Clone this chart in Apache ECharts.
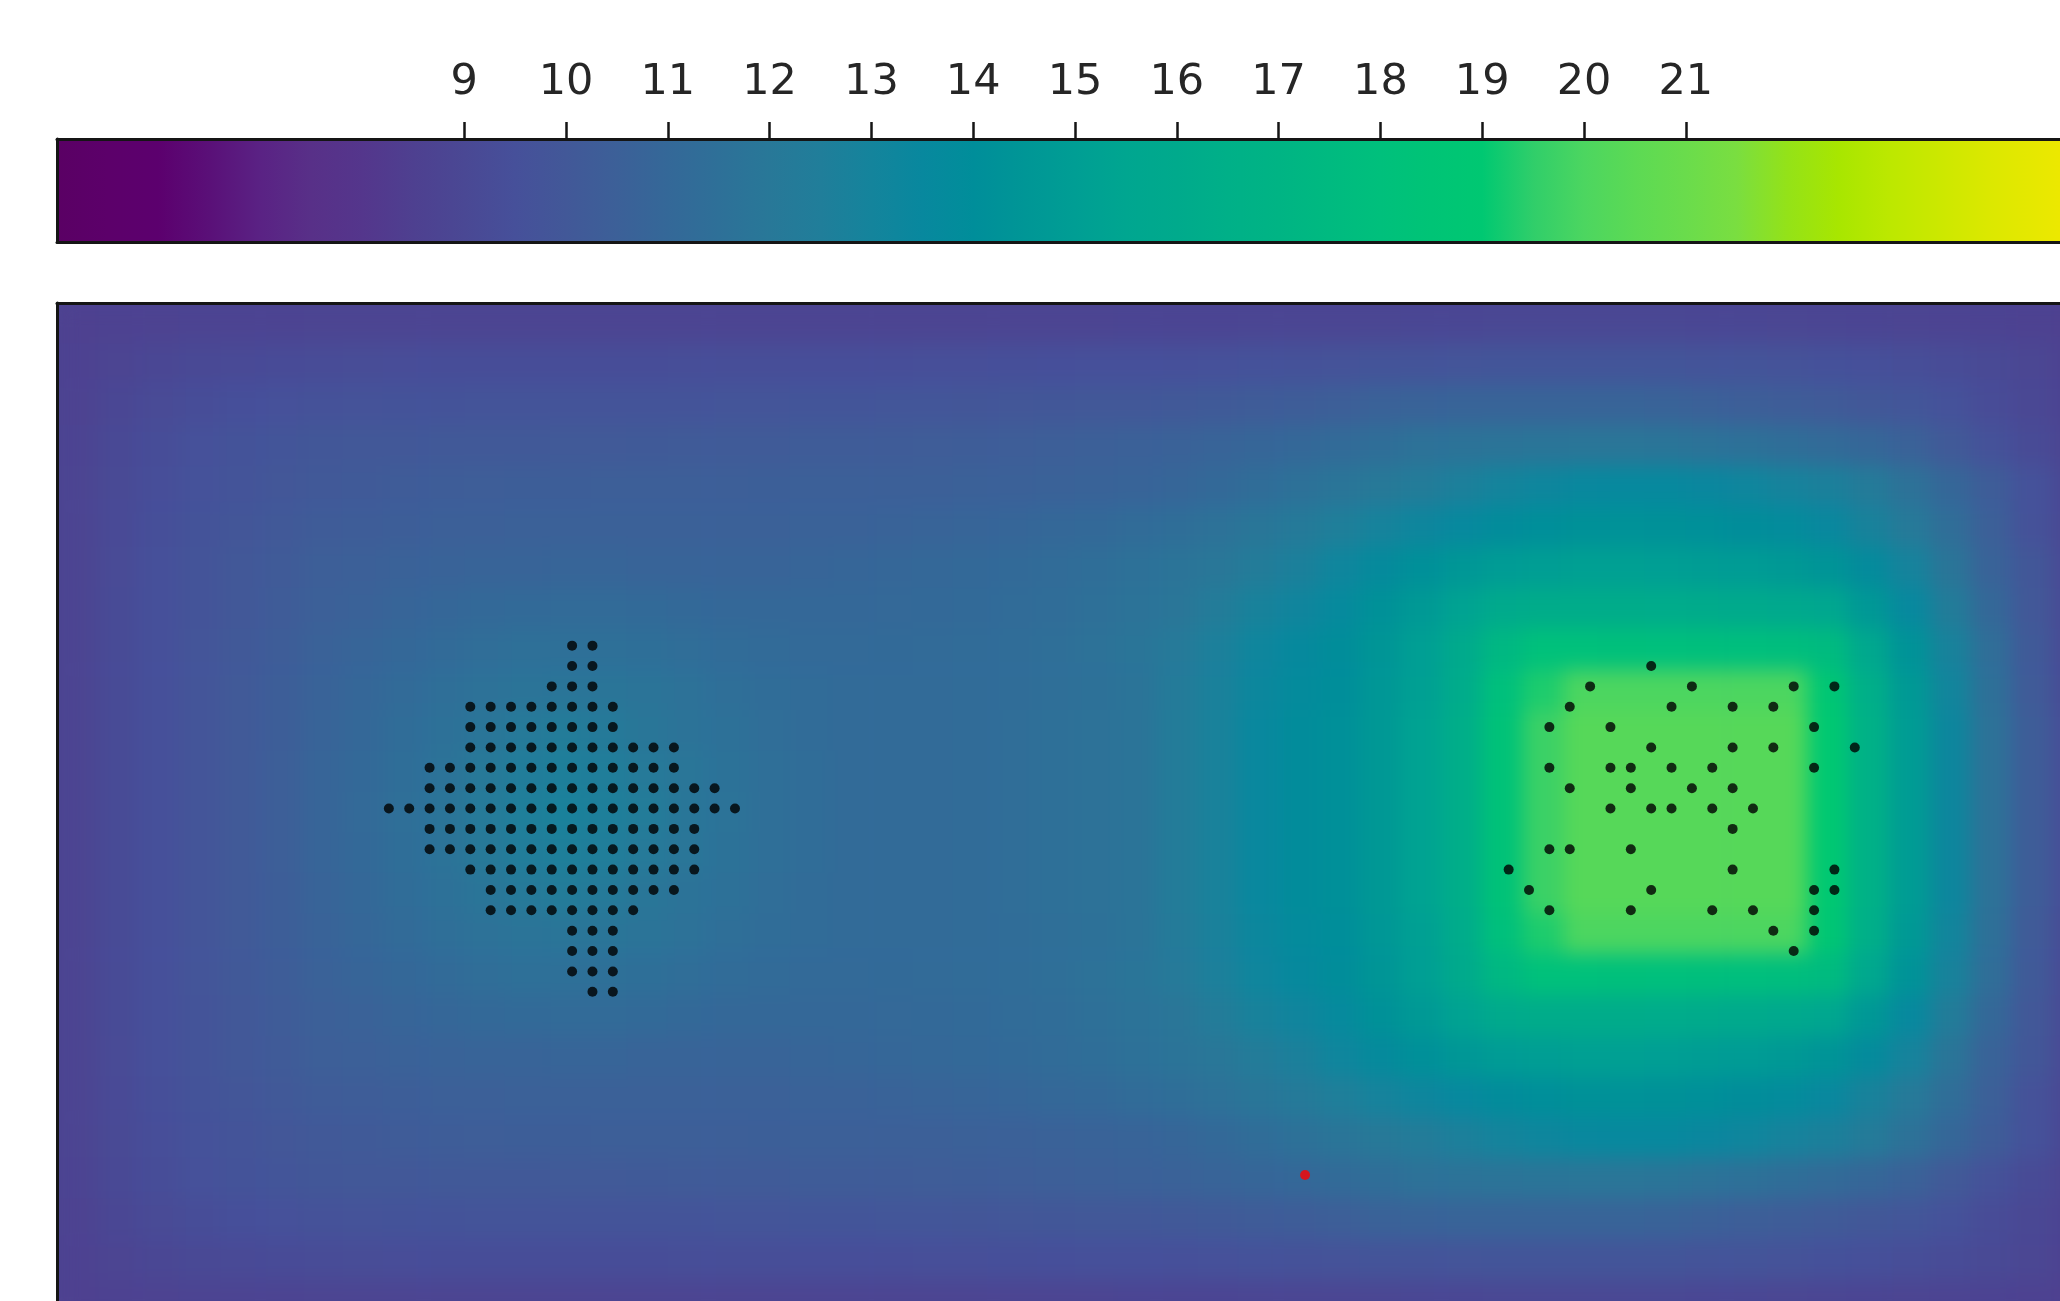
<!DOCTYPE html>
<html>
<head>
<meta charset="utf-8">
<title>field</title>
<script src="https://cdn.jsdelivr.net/npm/echarts@6/dist/echarts.min.js"></script>
<style>
  html, body { margin: 0; padding: 0; background: #fff; }
  #page { position: relative; width: 2060px; height: 1301px; overflow: hidden; }
  /* the field sits under the plot frame; blur smooths the cell steps like an interpolated image */
  #fieldWrap { position: absolute; left: 57px; top: 303px; width: 2003px; height: 998px;
    overflow: hidden; background: #4c4492; }
  #field { width: 2036px; height: 1018px; filter: blur(10px); }
  #chart { position: absolute; left: 0; top: 0; width: 2060px; height: 1301px; }
</style>
</head>
<body>
<div id="page">
  <div id="fieldWrap"><div id="field"></div></div>
  <div id="chart"></div>
</div>
<script>
// colour scale, one stop every 0.5 from 5 to 25
const cmap = ['#5a0064', '#5c006a', '#5c006e', '#5a1078', '#5a2284', '#583088', '#54368c', '#4e4090',
  '#4a4894', '#46509a', '#425898', '#3c6098', '#346898', '#2e7098', '#287898', '#207e9a', '#14849c',
  '#08889e', '#008e9a', '#009696', '#009e94', '#00a690', '#00aa8c', '#00b088', '#00b484', '#00ba80',
  '#00c07c', '#00c476', '#00c872', '#30ce6a', '#4cd660', '#5cda54', '#6adc4c', '#7ade40', '#94e218',
  '#a8e600', '#bce800', '#cce800', '#dce800', '#e8e800', '#f4e800'];
const cbarMin = 5;
const cbarMax = 25;
const cbarTicks = [9, 10, 11, 12, 13, 14, 15, 16, 17, 18, 19, 20, 21];

// field values, 2x2 unit cells, rows from top to bottom
const field = [
  [8.55,8.63,8.68,8.72,8.75,8.77,8.79,8.8,8.8,8.8,8.8,8.8,8.8,8.8,8.8,8.8,8.8,8.8,8.8,8.8,8.8,8.8,8.8,8.8,8.8,8.81,8.82,8.83,8.84,8.86,8.88,8.9,8.92,8.94,8.96,8.97,8.98,8.99,8.99,8.98,8.96,8.94,8.91,8.88,8.84,8.8,8.75,8.7,8.64,8.56],
  [8.62,8.81,8.95,9.07,9.15,9.21,9.27,9.29,9.31,9.32,9.32,9.33,9.33,9.34,9.34,9.35,9.36,9.37,9.38,9.39,9.4,9.41,9.43,9.44,9.46,9.48,9.5,9.53,9.56,9.6,9.64,9.68,9.72,9.76,9.8,9.82,9.83,9.84,9.84,9.82,9.78,9.73,9.66,9.58,9.48,9.37,9.24,9.1,8.93,8.65],
  [8.68,8.96,9.16,9.33,9.46,9.55,9.64,9.68,9.7,9.71,9.72,9.73,9.74,9.75,9.77,9.78,9.8,9.81,9.83,9.84,9.85,9.87,9.9,9.92,9.94,9.98,10.02,10.08,10.14,10.22,10.32,10.45,10.6,10.7,10.75,10.75,10.73,10.73,10.72,10.67,10.57,10.45,10.3,10.2,10.0,9.85,9.6,9.28,9.0,8.7],
  [8.72,9.08,9.33,9.56,9.71,9.82,9.94,9.99,10.03,10.05,10.07,10.09,10.1,10.12,10.14,10.16,10.18,10.2,10.22,10.24,10.26,10.29,10.33,10.37,10.42,10.48,10.55,10.63,10.72,10.85,11.0,11.2,11.4,11.6,11.7,11.75,11.8,11.85,11.85,11.8,11.7,11.55,11.4,11.2,10.95,10.6,10.1,9.65,9.2,8.8],
  [8.8,9.1,9.38,9.62,9.78,9.93,10.05,10.15,10.25,10.3,10.35,10.38,10.4,10.42,10.43,10.44,10.45,10.46,10.47,10.48,10.5,10.52,10.54,10.56,10.6,10.66,10.75,10.87,11.05,11.3,11.55,11.8,12.05,12.3,12.65,13.0,13.25,13.45,13.55,13.55,13.4,13.2,12.9,12.7,12.25,11.6,10.95,10.3,9.6,8.95],
  [8.8,9.15,9.45,9.7,9.9,10.05,10.25,10.33,10.4,10.47,10.52,10.56,10.58,10.58,10.57,10.56,10.56,10.58,10.6,10.65,10.7,10.75,10.8,10.88,10.97,11.08,11.22,11.4,11.62,11.9,12.2,12.55,12.9,13.25,13.55,13.85,14.05,14.2,14.25,14.2,14.1,13.95,13.8,13.45,12.85,12.15,11.35,10.5,9.65,9.0],
  [8.8,9.18,9.48,9.75,9.98,10.18,10.42,10.5,10.6,10.68,10.74,10.78,10.8,10.8,10.78,10.76,10.76,10.78,10.82,10.88,10.95,11.0,11.06,11.15,11.25,11.38,11.55,11.72,11.95,12.3,12.7,13.2,13.7,14.15,14.55,14.85,15.0,15.1,15.1,15.05,14.95,14.85,14.7,14.4,13.75,12.9,11.8,10.7,9.95,9.05],
  [8.8,9.2,9.5,9.78,10.03,10.25,10.53,10.65,10.82,10.92,11.05,11.14,11.18,11.18,11.14,11.07,11.03,10.98,10.98,10.99,11.04,11.09,11.15,11.24,11.34,11.48,11.67,11.85,12.3,12.85,13.15,13.65,14.2,14.7,15.3,15.95,16.2,16.2,16.2,16.15,16.1,16.0,15.9,15.6,14.6,13.55,12.35,11.0,10.0,9.1],
  [8.8,9.2,9.5,9.8,10.08,10.33,10.64,10.81,11.01,11.18,11.35,11.47,11.53,11.52,11.46,11.35,11.24,11.16,11.1,11.1,11.13,11.16,11.23,11.33,11.43,11.6,11.8,12.15,12.65,13.2,13.6,13.95,14.45,15.05,16.0,17.3,18.1,18.1,18.05,18.0,17.95,17.9,17.85,17.6,15.7,14.3,12.85,11.35,10.15,9.15],
  [8.8,9.2,9.5,9.8,10.1,10.38,10.68,10.92,11.2,11.42,11.62,11.77,11.82,11.8,11.73,11.6,11.45,11.32,11.22,11.17,11.17,11.18,11.23,11.32,11.43,11.57,11.74,12.25,12.75,13.35,13.75,14.02,14.55,15.15,16.15,18.0,19.3,20.0,20.0,20.0,20.0,20.0,20.0,18.7,16.4,14.7,13.1,11.5,10.2,9.2],
  [8.8,9.2,9.5,9.8,10.1,10.4,10.75,11.0,11.3,11.55,11.8,12.15,12.3,12.2,11.9,11.7,11.55,11.35,11.25,11.2,11.2,11.2,11.27,11.35,11.47,11.6,11.75,12.3,12.8,13.45,13.85,14.1,14.65,15.3,16.35,18.3,19.7,20.3,20.3,20.3,20.3,20.3,20.3,19.0,16.6,14.9,13.3,11.6,10.3,9.3],
  [8.8,9.2,9.5,9.8,10.1,10.45,10.8,11.05,11.4,11.7,12.05,12.42,12.6,12.48,12.15,11.85,11.65,11.45,11.3,11.2,11.2,11.2,11.27,11.35,11.47,11.6,11.75,12.3,12.8,13.45,13.85,14.1,14.65,15.3,16.35,18.3,19.7,20.3,20.3,20.3,20.3,20.3,20.3,19.0,16.6,14.9,13.3,11.6,10.3,9.3],
  [8.8,9.2,9.5,9.8,10.1,10.45,10.8,11.1,11.45,11.75,12.15,12.55,12.75,12.6,12.3,11.9,11.7,11.45,11.3,11.2,11.2,11.2,11.27,11.35,11.47,11.6,11.75,12.3,12.8,13.45,13.85,14.1,14.65,15.3,16.35,18.3,19.7,20.3,20.3,20.3,20.3,20.3,20.3,19.0,16.6,14.9,13.3,11.6,10.3,9.3],
  [8.8,9.2,9.5,9.8,10.1,10.45,10.8,11.05,11.4,11.7,12.05,12.42,12.6,12.48,12.15,11.85,11.65,11.45,11.3,11.2,11.2,11.2,11.27,11.35,11.47,11.6,11.75,12.3,12.8,13.45,13.85,14.1,14.65,15.3,16.35,18.3,19.7,20.3,20.3,20.3,20.3,20.3,20.3,19.0,16.6,14.9,13.3,11.6,10.3,9.3],
  [8.8,9.2,9.5,9.8,10.1,10.4,10.75,11.0,11.3,11.55,11.8,12.15,12.3,12.2,11.9,11.7,11.55,11.35,11.25,11.2,11.2,11.2,11.27,11.35,11.47,11.6,11.75,12.3,12.8,13.45,13.85,14.1,14.65,15.3,16.35,18.3,19.7,20.3,20.3,20.3,20.3,20.3,20.3,19.0,16.6,14.9,13.3,11.6,10.3,9.3],
  [8.8,9.2,9.5,9.8,10.1,10.38,10.68,10.92,11.2,11.42,11.62,11.77,11.82,11.8,11.73,11.6,11.45,11.32,11.22,11.17,11.17,11.18,11.23,11.32,11.43,11.57,11.74,12.25,12.75,13.35,13.75,14.02,14.55,15.15,16.15,18.0,19.3,20.0,20.0,20.0,20.0,20.0,20.0,18.7,16.4,14.7,13.1,11.5,10.2,9.2],
  [8.8,9.2,9.5,9.8,10.08,10.33,10.64,10.81,11.01,11.18,11.35,11.47,11.53,11.52,11.46,11.35,11.24,11.16,11.1,11.1,11.13,11.16,11.23,11.33,11.43,11.6,11.8,12.15,12.65,13.2,13.6,13.95,14.45,15.05,16.0,17.3,18.1,18.1,18.05,18.0,17.95,17.9,17.85,17.6,15.7,14.3,12.85,11.35,10.15,9.15],
  [8.8,9.2,9.5,9.78,10.03,10.25,10.53,10.65,10.82,10.92,11.05,11.14,11.18,11.18,11.14,11.07,11.03,10.98,10.98,10.99,11.04,11.09,11.15,11.24,11.34,11.48,11.67,11.85,12.3,12.85,13.15,13.65,14.2,14.7,15.3,15.95,16.2,16.2,16.2,16.15,16.1,16.0,15.9,15.6,14.6,13.55,12.35,11.0,10.0,9.1],
  [8.8,9.18,9.48,9.75,9.98,10.18,10.42,10.5,10.6,10.68,10.74,10.78,10.8,10.8,10.78,10.76,10.76,10.78,10.82,10.88,10.95,11.0,11.06,11.15,11.25,11.38,11.55,11.72,11.95,12.3,12.7,13.2,13.7,14.15,14.55,14.85,15.0,15.1,15.1,15.05,14.95,14.85,14.7,14.4,13.75,12.9,11.8,10.7,9.95,9.05],
  [8.8,9.15,9.45,9.7,9.9,10.05,10.25,10.33,10.4,10.47,10.52,10.56,10.58,10.58,10.57,10.56,10.56,10.58,10.6,10.65,10.7,10.75,10.8,10.88,10.97,11.08,11.22,11.4,11.62,11.9,12.2,12.55,12.9,13.25,13.55,13.85,14.05,14.2,14.25,14.2,14.1,13.95,13.8,13.45,12.85,12.15,11.35,10.5,9.65,9.0],
  [8.8,9.1,9.38,9.62,9.78,9.93,10.05,10.15,10.25,10.3,10.35,10.38,10.4,10.42,10.43,10.44,10.45,10.46,10.47,10.48,10.5,10.52,10.54,10.56,10.6,10.66,10.75,10.87,11.05,11.3,11.55,11.8,12.05,12.3,12.65,13.0,13.25,13.45,13.55,13.55,13.4,13.2,12.9,12.7,12.25,11.6,10.95,10.3,9.6,8.95],
  [8.72,9.08,9.33,9.56,9.71,9.82,9.94,9.99,10.03,10.05,10.07,10.09,10.1,10.12,10.14,10.16,10.18,10.2,10.22,10.24,10.26,10.29,10.33,10.37,10.42,10.48,10.55,10.63,10.72,10.85,11.0,11.2,11.4,11.6,11.7,11.75,11.8,11.85,11.85,11.8,11.7,11.55,11.4,11.2,10.95,10.6,10.1,9.65,9.2,8.8],
  [8.68,8.96,9.16,9.33,9.46,9.55,9.64,9.68,9.7,9.71,9.72,9.73,9.74,9.75,9.77,9.78,9.8,9.81,9.83,9.84,9.85,9.87,9.9,9.92,9.94,9.98,10.02,10.08,10.14,10.22,10.32,10.45,10.6,10.7,10.75,10.75,10.73,10.73,10.72,10.67,10.57,10.45,10.3,10.2,10.0,9.85,9.6,9.28,9.0,8.7],
  [8.62,8.81,8.95,9.07,9.15,9.21,9.27,9.29,9.31,9.32,9.32,9.33,9.33,9.34,9.34,9.35,9.36,9.37,9.38,9.39,9.4,9.41,9.43,9.44,9.46,9.48,9.5,9.53,9.56,9.6,9.64,9.68,9.72,9.76,9.8,9.82,9.83,9.84,9.84,9.82,9.78,9.73,9.66,9.58,9.48,9.37,9.24,9.1,8.93,8.65],
  [8.55,8.63,8.68,8.72,8.75,8.77,8.79,8.8,8.8,8.8,8.8,8.8,8.8,8.8,8.8,8.8,8.8,8.8,8.8,8.8,8.8,8.8,8.8,8.8,8.8,8.81,8.82,8.83,8.84,8.86,8.88,8.9,8.92,8.94,8.96,8.97,8.98,8.99,8.99,8.98,8.96,8.94,8.91,8.88,8.84,8.8,8.75,8.7,8.64,8.56]
];

// left cluster: [y, first x, last x] of each row of dots
const leftRuns = [
  [17, 25, 26], [18, 25, 26], [19, 24, 26], [20, 20, 27], [21, 20, 27], [22, 20, 30],
  [23, 18, 30], [24, 18, 32], [25, 16, 33], [26, 18, 31], [27, 18, 31], [28, 20, 31],
  [29, 21, 30], [30, 21, 28], [31, 25, 27], [32, 25, 27], [33, 25, 27], [34, 26, 27]
];
// right cluster: [y, x values]
const rightRows = [
  [18, [78]], [19, [75, 80, 85, 87]], [20, [74, 79, 82, 84]], [21, [73, 76, 86]],
  [22, [78, 82, 84, 88]], [23, [73, 76, 77, 79, 81, 86]], [24, [74, 77, 80, 82]],
  [25, [76, 78, 79, 81, 83]], [26, [82]], [27, [73, 74, 77]], [28, [71, 82, 87]],
  [29, [72, 78, 86, 87]], [30, [73, 77, 81, 83, 86]], [31, [84, 86]], [32, [85]]
];
const redDots = [[61, 43]];

// plot spans x -0.3..99.7 and y 0.17..50.17; only part of it is inside the picture
const plotX = [-0.3, 99.7];
const plotY = [0.17, 50.17];
const plotPx = [2036, 1018];     // full plot size
const viewPx = [2003, 998];      // part that shows
const cbarPx = 2036;

const heatData = [];
field.forEach((row, j) => {
  row.forEach((v, i) => heatData.push([i, j, v]));
});
const xCats = field[0].map((_, i) => i);
const yCats = field.map((_, j) => j);

const blackDots = [];
leftRuns.forEach(([y, x0, x1]) => {
  for (let x = x0; x <= x1; x++) blackDots.push([x, y]);
});
rightRows.forEach(([y, xs]) => xs.forEach(x => blackDots.push([x, y])));

// 1. the field
const fieldChart = echarts.init(document.getElementById('field'));
fieldChart.setOption({
  animation: false,
  grid: { left: 0, top: 0, right: 0, bottom: 0 },
  xAxis: { type: 'category', data: xCats, show: false },
  yAxis: { type: 'category', data: yCats, inverse: true, show: false },
  visualMap: {
    show: false, type: 'continuous', min: cbarMin, max: cbarMax,
    dimension: 2, inRange: { color: cmap }
  },
  series: [{
    type: 'heatmap', data: heatData, progressive: 0, silent: true,
    itemStyle: { borderWidth: 0 }, emphasis: { disabled: true }
  }]
});

// 2. colour bar, frame and dots
const frameLine = { show: true, onZero: false, lineStyle: { color: '#151515', width: 3 } };
const bare = { splitLine: { show: false }, axisTick: { show: false }, axisLabel: { show: false } };
const xView = plotX[0] + (plotX[1] - plotX[0]) * viewPx[0] / plotPx[0];
const yView = plotY[0] + (plotY[1] - plotY[0]) * viewPx[1] / plotPx[1];
const cbarView = cbarMin + (cbarMax - cbarMin) * viewPx[0] / cbarPx;

const chart = echarts.init(document.getElementById('chart'));
chart.setOption({
  animation: false,
  backgroundColor: 'transparent',
  grid: [
    { left: 57, top: 139, right: 0, height: 103, show: true, borderWidth: 0 },
    { left: 57, top: 303, right: 0, bottom: 0 }
  ],
  xAxis: [
    {
      gridIndex: 0, type: 'value', min: cbarMin, max: cbarView, position: 'top',
      splitLine: { show: false },
      axisLine: frameLine,
      axisTick: { show: true, customValues: cbarTicks, length: 17, lineStyle: { color: '#151515', width: 2.5 } },
      axisLabel: { show: true, customValues: cbarTicks, fontSize: 43, fontFamily: 'DejaVu Sans',
        color: '#262626', margin: 35 }
    },
    { gridIndex: 0, type: 'value', min: cbarMin, max: cbarView, position: 'bottom', axisLine: frameLine, ...bare },
    { gridIndex: 1, type: 'value', min: plotX[0], max: xView, position: 'top', axisLine: frameLine, ...bare }
  ],
  yAxis: [
    { gridIndex: 0, type: 'value', min: 0, max: 1, position: 'left', axisLine: frameLine, ...bare },
    { gridIndex: 1, type: 'value', min: plotY[0], max: yView, inverse: true, position: 'left',
      axisLine: frameLine, ...bare }
  ],
  series: [
    {
      type: 'scatter', xAxisIndex: 2, yAxisIndex: 1, data: blackDots,
      symbolSize: 10, silent: true, itemStyle: { color: '#000' }
    },
    {
      type: 'scatter', xAxisIndex: 2, yAxisIndex: 1, data: redDots,
      symbolSize: 10, silent: true, itemStyle: { color: '#ff0000' }
    }
  ]
});

// colour bar fill follows the same 5..25 scale as the field
const x5 = chart.convertToPixel({ xAxisIndex: 0 }, cbarMin);
const x25 = chart.convertToPixel({ xAxisIndex: 0 }, cbarMax);
const stops = cmap.map((c, k) => ({ offset: k / (cmap.length - 1), color: c }));
chart.setOption({
  grid: [
    { backgroundColor: new echarts.graphic.LinearGradient(x5, 0, x25, 0, stops, true) },
    {}
  ]
});
</script>
</body>
</html>
